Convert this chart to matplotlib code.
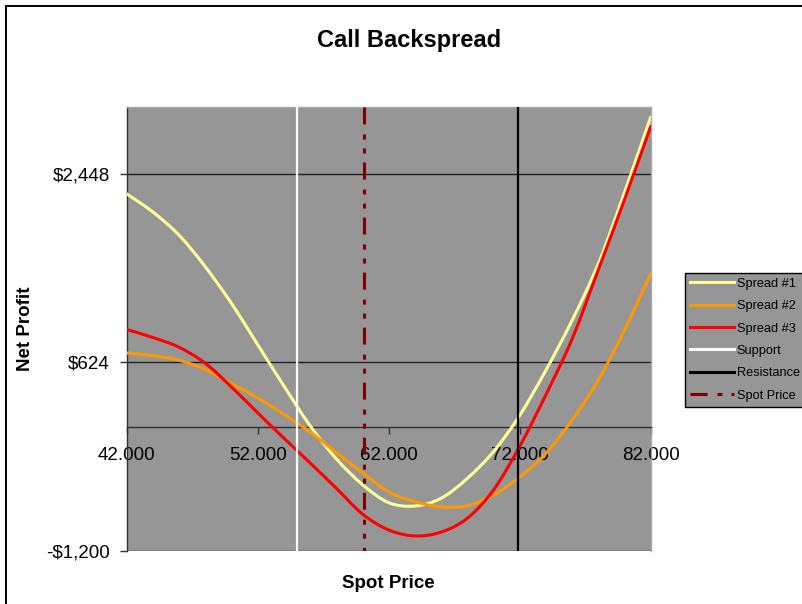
import matplotlib
matplotlib.use("Agg")
import matplotlib.pyplot as plt
from matplotlib.path import Path
from matplotlib.patches import PathPatch, Rectangle
from matplotlib.lines import Line2D
from matplotlib.ticker import FixedLocator
import numpy as np

plt.rcParams['font.family'] = ['Liberation Sans', 'DejaVu Sans']

# Spot prices and net profit of each spread
spot_prices = [42, 44, 46, 48, 50, 52, 54, 56, 58, 60, 62,
               64, 66, 68, 70, 72, 74, 76, 78, 80, 82]
spread_1 = [2256, 2080, 1855, 1550, 1195, 795, 395, 10, -310, -560, -735,
            -767, -692, -500, -240, 110, 548, 1031, 1579, 2270, 3000]
spread_2 = [715, 690, 645, 555, 419, 280, 120, -50, -250, -445, -630,
            -725, -775, -765, -660, -485, -258, 65, 451, 935, 1483]
spread_3 = [942, 865, 770, 615, 385, 135, -110, -350, -595, -845, -999,
            -1057, -1020, -886, -612, -190, 310, 850, 1520, 2200, 2907]

support_level = 55.0
resistance_level = 71.9
current_spot = 60.1

y_ticks = [-1200, 624, 2448]
y_tick_labels = ['-$1,200', '$624', '$2,448']
x_ticks = [42, 52, 62, 72, 82]
x_tick_labels = ['42.000', '52.000', '62.000', '72.000', '82.000']

series_names = ['Spread #1', 'Spread #2', 'Spread #3']
series_colors = ['#FFFF99', '#FF9900', '#FF0000']

W, H = 802, 604
fig = plt.figure(figsize=(W / 100, H / 100), dpi=100)
ax = fig.add_axes([126.7 / W, 1 - 550.7 / H, 524 / W, 444 / H])
ax.set_facecolor('#969696')
ax.set_xlim(42, 82)
ax.set_ylim(-1200, 3100)


def smooth_path(xs, ys):
    """Cubic Bezier path through the points (Catmull-Rom style smoothing)."""
    pts = np.column_stack([xs, ys]).astype(float)
    n = len(pts)
    verts = [pts[0]]
    codes = [Path.MOVETO]
    for i in range(n - 1):
        p0 = pts[i - 1] if i > 0 else pts[i]
        p1 = pts[i]
        p2 = pts[i + 1]
        p3 = pts[i + 2] if i + 2 < n else pts[i + 1]
        c1 = p1 + (p2 - p0) / 6.0
        c2 = p2 - (p3 - p1) / 6.0
        verts += [c1, c2, p2]
        codes += [Path.CURVE4] * 3
    return Path(verts, codes)


curve_lw = 2.2
for vals, col in zip([spread_1, spread_2, spread_3], series_colors):
    patch = PathPatch(smooth_path(spot_prices, vals), facecolor='none',
                      edgecolor=col, lw=curve_lw, capstyle='round',
                      joinstyle='round', zorder=3)
    ax.add_patch(patch)

# Support / resistance / spot markers
ax.axvline(support_level, color='white', lw=1.6, zorder=4)
ax.axvline(resistance_level, color='black', lw=1.6, zorder=4)
spot_dash = (0, (5.56, 3.27, 1.64, 2.95, 1.64, 2.95))
ax.plot([current_spot, current_spot], [1, 0], transform=ax.get_xaxis_transform(),
        color='#800000', lw=curve_lw, linestyle=spot_dash,
        dash_capstyle='butt', zorder=5)

# Axes styling
ax.yaxis.set_major_locator(FixedLocator(y_ticks))
ax.set_yticklabels(y_tick_labels)
ax.xaxis.set_major_locator(FixedLocator(x_ticks))
ax.set_xticklabels(x_tick_labels)
ax.yaxis.grid(True, color='#202020', lw=1.0, zorder=1)
ax.set_axisbelow(True)

ax.spines['bottom'].set_position(('data', 0))
ax.spines['bottom'].set_color('#303030')
ax.spines['left'].set_color('#303030')
for s in ('top', 'right'):
    ax.spines[s].set_color('#a8a8a8')
for s in ax.spines.values():
    s.set_linewidth(1.0)

ax.tick_params(axis='both', direction='out', length=5, width=1,
               color='#303030', labelsize=13.5, labelcolor='black')
ax.tick_params(axis='x', pad=9.5)
ax.tick_params(axis='y', pad=7)

# Titles
fig.text(409 / W, 1 - 40 / H, 'Call Backspread', ha='center', va='center',
         fontsize=17, fontweight='bold')
fig.text(25 / W, 1 - 329 / H, 'Net Profit', ha='center', va='center',
         rotation=90, fontsize=13.5, fontweight='bold')
fig.text(388 / W, 1 - 583 / H, 'Spot Price', ha='center', va='center',
         fontsize=13.5, fontweight='bold')

# Legend
handles = [Line2D([], [], color=c, lw=curve_lw) for c in series_colors]
handles += [Line2D([], [], color='white', lw=curve_lw),
            Line2D([], [], color='black', lw=curve_lw),
            Line2D([], [], color='#800000', lw=curve_lw, linestyle=spot_dash,
                   dash_capstyle='butt')]
labels = series_names + ['Support', 'Resistance', 'Spot Price']
leg = ax.legend(handles, labels, loc='upper left',
                bbox_to_anchor=(684.5 / W, 1 - 272.7 / H),
                bbox_transform=fig.transFigure, borderaxespad=0,
                fontsize=9.2, handlelength=3.5, handletextpad=0.2,
                labelspacing=0.81, borderpad=0.4, fancybox=False,
                framealpha=1, facecolor='#969696', edgecolor='black')
leg.get_frame().set_linewidth(1.0)

# Chart-area border
fig.patches.append(Rectangle((6 / W, -1), 2, 1 + (1 - 6 / H), fill=False,
                             edgecolor='black', lw=1.4,
                             transform=fig.transFigure, figure=fig))

fig.savefig('out.png', dpi=100)
